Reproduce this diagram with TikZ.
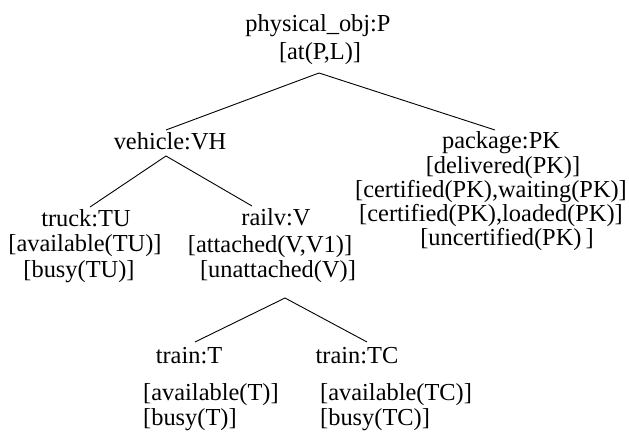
\documentclass[tikz,border=0pt]{standalone}
\usepackage{fontspec}
\setmainfont{Liberation Serif}
\begin{document}
\begin{tikzpicture}[x=1pt,y=-1pt,
  lbl/.style={inner sep=0pt,anchor=base,font=\fontsize{24.4}{24}\selectfont},
  lbll/.style={lbl,anchor=base west},
  edge/.style={line width=0.9pt,black}]
\useasboundingbox (0,0) rectangle (629,435);
% root
\node[lbl] (phys) at (318,32) {physical\_obj:P};
\node[lbl] (atPL) at (320,60) {[at(P,L)]};
% level 1
\node[lbl] (veh) at (170,150) {vehicle:VH};
\node[lbl] (pkg) at (501,149) {package:PK};
\node[lbl] (deliv) at (503,174) {[delivered(PK)]};
\node[lbl] (waiting) at (491,198) {[certified(PK),waiting(PK)]};
\node[lbl] (loaded) at (491,222) {[certified(PK),loaded(PK)]};
\node[lbl] (uncert) at (507,246) {[uncertified(PK)\,]};
% level 2
\node[lbl] (truck) at (86,227) {truck:TU};
\node[lbl] (availTU) at (85,252) {[available(TU)]};
\node[lbl] (busyTU) at (79,278) {[busy(TU)]};
\node[lbl] (railv) at (276,226) {railv:V};
\node[lbl] (attached) at (270,253) {[attached(V,V1)]};
\node[lbl] (unatt) at (278,278) {[unattached(V)]};
% level 3
\node[lbl] (trainT) at (189,363) {train:T};
\node[lbl] (trainTC) at (357,363) {train:TC};
\node[lbll] (availT) at (143,400) {[available(T)]};
\node[lbll] (busyT) at (143,425) {[busy(T)]};
\node[lbll] (availTC) at (320,400) {[available(TC)]};
\node[lbll] (busyTC) at (320,425) {[busy(TC)]};
% connector end points
\coordinate (physB) at (319,73);
\coordinate (vehT) at (166,130);
\coordinate (pkgT) at (495,130);
\coordinate (vehB) at (166,156);
\coordinate (truckT) at (90,207);
\coordinate (railvT) at (252,206);
\coordinate (railvB) at (285,298);
\coordinate (trainTT) at (195,342);
\coordinate (trainTCT) at (367,342);
% connectors
\draw[edge] (vehT) -- (physB) -- (pkgT);
\draw[edge] (truckT) -- (vehB) -- (railvT);
\draw[edge] (trainTT) -- (railvB) -- (trainTCT);
\end{tikzpicture}
\end{document}
